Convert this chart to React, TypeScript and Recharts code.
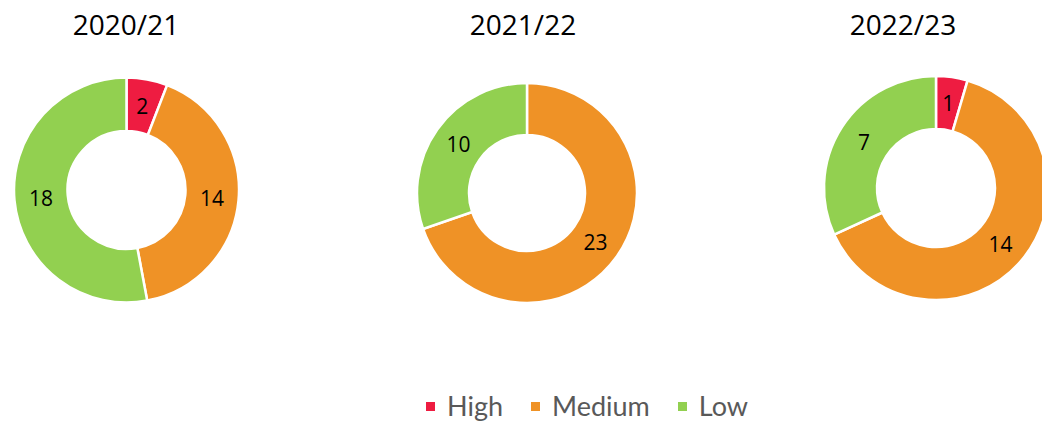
import { Pie, PieChart, Cell } from "recharts";

const categories = ["High", "Medium", "Low"];
const colors = ["#EE1C41", "#EF9226", "#92D050"];

const years = ["2020/21", "2021/22", "2022/23"];
const values2020 = [2, 14, 18];
const values2021 = [0, 23, 10];
const values2022 = [1, 14, 7];

const RADIAN = Math.PI / 180;

function makeData(values: number[]) {
  return categories.map((name, i) => ({ name, value: values[i] }));
}

const renderLabel = (props: any) => {
  const { cx, cy, midAngle, innerRadius, outerRadius, value } = props;
  if (!value) return null;
  const r = innerRadius + (outerRadius - innerRadius) / 2;
  const x = cx + r * Math.cos(-midAngle * RADIAN);
  const y = cy + r * Math.sin(-midAngle * RADIAN);
  return (
    <text
      x={x}
      y={y}
      fill="#000"
      fontSize={21}
      fontFamily="Open Sans"
      textAnchor="middle"
      dominantBaseline="central"
    >
      {value}
    </text>
  );
};

const pies = [
  { title: years[0], values: values2020, cx: 126.5, cy: 190, inner: 59, outer: 112.5, titleX: 126 },
  { title: years[1], values: values2021, cx: 527, cy: 193, inner: 58, outer: 110, titleX: 523 },
  { title: years[2], values: values2022, cx: 936, cy: 188, inner: 59, outer: 112, titleX: 903 },
];

export default function App() {
  return (
    <div
      style={{
        position: "absolute",
        left: 0,
        top: 0,
        width: 1042,
        height: 423,
        background: "#fff",
        fontFamily: "Open Sans",
        overflow: "hidden",
      }}
    >
      {pies.map((p) => (
        <div
          key={p.title}
          style={{
            position: "absolute",
            left: p.titleX - 80,
            width: 160,
            top: 4,
            textAlign: "center",
            fontSize: 28,
            lineHeight: "40px",
            color: "#000",
          }}
        >
          {p.title}
        </div>
      ))}
      <div style={{ position: "absolute", left: 0, top: 0 }}>
        <PieChart width={1042} height={423} margin={{ top: 0, right: 0, bottom: 0, left: 0 }}>
          {pies.map((p) => (
            <Pie
              key={p.title}
              data={makeData(p.values)}
              dataKey="value"
              nameKey="name"
              cx={p.cx}
              cy={p.cy}
              innerRadius={p.inner}
              outerRadius={p.outer}
              startAngle={90}
              endAngle={-270}
              stroke="#fff"
              strokeWidth={2.5}
              label={renderLabel}
              labelLine={false}
              isAnimationActive={false}
            >
              {categories.map((c, i) => (
                <Cell key={c} fill={colors[i]} />
              ))}
            </Pie>
          ))}
        </PieChart>
      </div>
      <div
        style={{
          position: "absolute",
          left: 426,
          top: 388,
          display: "flex",
          alignItems: "center",
          fontFamily: "Lato",
          fontSize: 27,
          color: "#595959",
          lineHeight: "36px",
        }}
      >
        {categories.map((c, i) => (
          <div key={c} style={{ display: "flex", alignItems: "center", marginRight: 28 }}>
            <span
              style={{
                display: "inline-block",
                width: 9,
                height: 9,
                background: colors[i],
                marginRight: 12,
              }}
            />
            <span>{c}</span>
          </div>
        ))}
      </div>
    </div>
  );
}
